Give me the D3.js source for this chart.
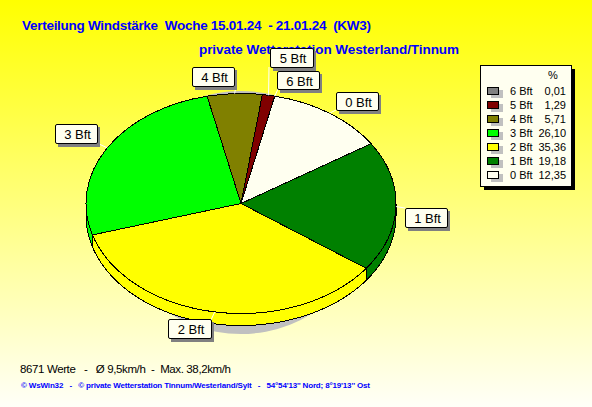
<!DOCTYPE html>
<html><head><meta charset="utf-8">
<script src="https://cdn.jsdelivr.net/npm/d3@7/dist/d3.min.js"></script>
<style>
html,body{margin:0;padding:0;background:#fff}
svg{display:block}
text{white-space:pre;font-family:"Liberation Sans",Arial,sans-serif}
</style></head><body>
<script>
// Data (legend order)
const categories = ["6 Bft","5 Bft","4 Bft","3 Bft","2 Bft","1 Bft","0 Bft"];
const values = [0.01,1.29,5.71,26.10,35.36,19.18,12.35];
const valueLabels = ["0,01","1,29","5,71","26,10","35,36","19,18","12,35"];
const colors = ["#808080","#800000","#808000","#00ff00","#ffff00","#008000","#fffff0"];
const titleLines = ["Verteilung Windstärke  Woche 15.01.24  - 21.01.24  (KW3)","private Wetterstation Westerland/Tinnum"];
const footerStats = "8671 Werte   -   Ø 9,5km/h  -  Max. 38,2km/h";
const footerCopy = "© WsWin32   -   © private Wetterstation Tinnum/Westerland/Sylt   -   54°54'13'' Nord; 8°19'13'' Ost";

// Layout
const W=592,H=407, cx=241, cy=203.5, rx=155, ry=110, depth=12;
const startDeg=12.6;
// label box top-left and leader end, per category
const labelLayout = {
 "6 Bft":{x:277,y:71,w:42,h:18,lx:278,ly:89},
 "5 Bft":{x:270,y:48,w:43,h:19,lx:269,ly:67},
 "4 Bft":{x:192,y:67,w:42,h:19,lx:236,ly:86},
 "3 Bft":{x:55,y:124,w:42,h:19,lx:97,ly:143},
 "2 Bft":{x:168,y:319,w:43,h:19,lx:211,ly:320},
 "1 Bft":{x:405,y:208,w:42,h:19,lx:405,ly:208},
 "0 Bft":{x:336,y:92,w:42,h:18,lx:336,ly:110}
};

const svg=d3.select("body").append("svg").attr("width",W).attr("height",H);
const defs=svg.append("defs");
const g=defs.append("linearGradient").attr("id","bg").attr("x1",0).attr("y1",0).attr("x2",0).attr("y2",1);
g.append("stop").attr("offset",0).attr("stop-color","#ffff00");
g.append("stop").attr("offset",1).attr("stop-color","#fffff8");
svg.append("rect").attr("width",W).attr("height",H).attr("fill","url(#bg)");

// titles
svg.append("text").attr("x",22).attr("y",30).attr("fill","#0000ff").attr("font-weight","bold").attr("font-size",13.5).attr("textLength",349).attr("lengthAdjust","spacing").text(titleLines[0]);
svg.append("text").attr("x",199).attr("y",54).attr("fill","#0000ff").attr("font-weight","bold").attr("font-size",13.5).attr("textLength",260).attr("lengthAdjust","spacing").text(titleLines[1]);

// pie
const rows=categories.map((c,i)=>({c,v:values[i],col:colors[i]})).reverse();
const t0=startDeg*Math.PI/180;
const arcs=d3.pie().value(d=>d.v).sort(null).startAngle(t0).endAngle(t0+2*Math.PI)(rows);
const px=(a)=>cx+rx*Math.sin(a), py=(a,o=0)=>cy-ry*Math.cos(a)+o;

svg.append("ellipse").attr("cx",cx).attr("cy",212.5).attr("rx",128).attr("ry",121.5).attr("fill","#c0c0c0");

// side wall
const sideG=svg.append("g").attr("shape-rendering","crispEdges");
const lineGen=d3.line();
const visLo=Math.PI/2, visHi=3*Math.PI/2;
arcs.forEach(a=>{
  const lo=Math.max(a.startAngle,visLo), hi=Math.min(a.endAngle,visHi);
  if(hi<=lo) return;
  const aa=d3.range(0,61).map(i=>lo+(hi-lo)*i/60);
  const pts=aa.map(t=>[px(t),py(t)]).concat(aa.slice().reverse().map(t=>[px(t),py(t,depth)]));
  sideG.append("path").attr("d",lineGen(pts)+"Z").attr("fill",a.data.col).attr("stroke","#000");
});

// top
const arcGen=d3.arc().innerRadius(0).outerRadius(rx);
svg.append("g").attr("transform",`translate(${cx},${cy}) scale(1,${ry/rx})`).attr("shape-rendering","crispEdges")
 .selectAll("path").data(arcs).join("path")
 .attr("d",arcGen).attr("fill",d=>d.data.col).attr("stroke","#000").attr("vector-effect","non-scaling-stroke");

// leaders + labels
const lab=svg.append("g");
arcs.forEach(a=>{
  const L=labelLayout[a.data.c], m=(a.startAngle+a.endAngle)/2;
  lab.append("line").attr("x1",px(m)).attr("y1",py(m)).attr("x2",L.lx).attr("y2",L.ly).attr("stroke","#fff");
});
arcs.forEach(a=>{
  const L=labelLayout[a.data.c];
  lab.append("rect").attr("x",L.x+3).attr("y",L.y+3).attr("width",L.w).attr("height",L.h+1).attr("fill","#808080");
  lab.append("rect").attr("x",L.x+.5).attr("y",L.y+.5).attr("width",L.w).attr("height",L.h).attr("rx",1.5).attr("fill","#fffff0").attr("stroke","#000");
  lab.append("text").attr("x",L.x+L.w/2+1.5).attr("y",L.y+14.5).attr("text-anchor","middle").attr("font-size",13).attr("fill","#000").text(a.data.c);
});

// legend
const lx=480, ly=65, lw=91, lh=121;
svg.append("rect").attr("x",lx+4).attr("y",ly+4).attr("width",lw).attr("height",lh).attr("fill","#000");
svg.append("rect").attr("x",lx+.5).attr("y",ly+.5).attr("width",lw).attr("height",lh).attr("fill","#fffff0").attr("stroke","#000");
svg.append("text").attr("x",553).attr("y",79).attr("text-anchor","middle").attr("font-size",11).text("%");
const rowY=d3.scalePoint().domain(categories).range([91,175]);
categories.forEach((c,i)=>{
  const y=rowY(c);
  svg.append("rect").attr("x",491).attr("y",y-1).attr("width",12).attr("height",8).attr("fill","#c0c0c0");
  svg.append("rect").attr("x",487.5).attr("y",y-3.5).attr("width",11).attr("height",7).attr("fill",colors[i]).attr("stroke","#000");
  svg.append("text").attr("x",510).attr("y",y+4).attr("font-size",11).text(c);
  svg.append("text").attr("x",566).attr("y",y+4).attr("text-anchor","end").attr("font-size",11).text(valueLabels[i]);
});

// footer
svg.append("text").attr("x",20).attr("y",373).attr("font-size",11.5).attr("fill","#000").attr("textLength",211).attr("lengthAdjust","spacing").text(footerStats);
svg.append("text").attr("x",21).attr("y",388).attr("font-size",8).attr("font-weight","bold").attr("fill","#0000ff").attr("textLength",349).attr("lengthAdjust","spacing").text(footerCopy);
</script>
</body></html>
